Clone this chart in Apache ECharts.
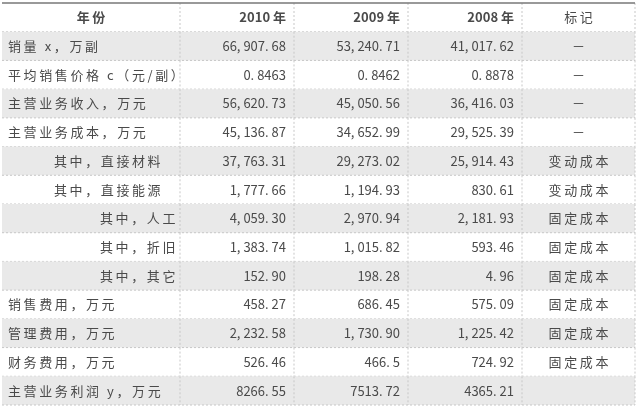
<!DOCTYPE html><html><head><meta charset="utf-8"><script src="https://cdn.jsdelivr.net/npm/echarts@6/dist/echarts.min.js"></script>
<style>html,body{margin:0;background:#fff}#c{width:639px;height:407px}</style></head><body><div id="c"></div><script>
const headers=['年份','2010 年','2009 年','2008 年','标记'];
const labels=['销量 x，万副','平均销售价格 c（元/副）','主营业务收入，万元','主营业务成本，万元','其中，直接材料','其中，直接能源','其中，人工','其中，折旧','其中，其它','销售费用，万元','管理费用，万元','财务费用，万元','主营业务利润 y，万元'];
const indent=[0,0,0,0,1,1,2,2,2,0,0,0,0];
const v2010=['66, 907. 68','0. 8463','56, 620. 73','45, 136. 87','37, 763. 31','1, 777. 66','4, 059. 30','1, 383. 74','152. 90','458. 27','2, 232. 58','526. 46','8266. 55'];
const v2009=['53, 240. 71','0. 8462','45, 050. 56','34, 652. 99','29, 273. 02','1, 194. 93','2, 970. 94','1, 015. 82','198. 28','686. 45','1, 730. 90','466. 5','7513. 72'];
const v2008=['41, 017. 62','0. 8878','36, 416. 03','29, 525. 39','25, 914. 43','830. 61','2, 181. 93','593. 46','4. 96','575. 09','1, 225. 42','724. 92','4365. 21'];
const marks=['－','－','－','－','变动成本','变动成本','固定成本','固定成本','固定成本','固定成本','固定成本','固定成本',''];
const colEdges=[0,178,292,406,520,633];
const rows=[headers].concat(labels.map((l,i)=>[l,v2010[i],v2009[i],v2008[i],marks[i]]));
const cats=rows.map((r,i)=>String(i));
const font='"Noto Sans CJK SC","DejaVu Sans",sans-serif';
const spaced=s=>Array.from(s).join('\u2009');
const chart=echarts.init(document.getElementById('c'));
chart.setOption({animation:false,
grid:{left:2,right:4,top:3,bottom:2},
xAxis:{type:'value',min:0,max:633,show:false},
yAxis:{type:'category',data:cats,inverse:true,show:false},
series:[{type:'custom',data:rows.map((r,i)=>i),renderItem:function(params,api){
 const i=api.value(0);const r=rows[i];
 const y0=api.coord([0,i])[1];const h=api.size([0,1])[1];const top=y0-h/2;
 const x=c=>api.coord([colEdges[c],i])[0];
 const ch=[];
 if(i%2===1) ch.push({type:'rect',shape:{x:x(0),y:top,width:x(5)-x(0),height:h},style:{fill:'#e9e9e9'}});
 for(let c=0;c<5;c++){
  let tx,align,txt=r[c];
  if(c===0){ if(i===0){tx=(x(0)+x(1))/2;align='center';txt=spaced(txt);} else {tx=x(0)+6+indent[i-1]*46;align='left';txt=spaced(txt);}}
  else if(c===4){tx=(x(4)+x(5))/2;align='center';txt=spaced(txt);}
  else {tx=x(c+1)-8;align='right';}
  ch.push({type:'text',style:{text:txt,x:tx,y:y0,align:align,verticalAlign:'middle',fill:'#4a4a4a',font:(i===0&&c<4?'bold ':'')+'13px '+font}});
 }
 ch.push({type:'line',shape:{x1:x(0),y1:top+h,x2:x(5),y2:top+h},style:{stroke:'#c8c8c8',lineWidth:1,lineDash:[2,2]}});
 for(let c=1;c<5;c++) ch.push({type:'line',shape:{x1:x(c),y1:top,x2:x(c),y2:top+h},style:{stroke:'#c8c8c8',lineWidth:1,lineDash:[2,2]}});
 ch.push({type:'line',shape:{x1:x(5),y1:top,x2:x(5),y2:top+h},style:{stroke:'#c8c8c8',lineWidth:1,lineDash:[2,2]}});
 if(i===0) ch.push({type:'line',shape:{x1:x(0),y1:top,x2:x(5),y2:top},style:{stroke:'#777',lineWidth:1.5}});
 return {type:'group',children:ch};
}}]});
</script></body></html>
